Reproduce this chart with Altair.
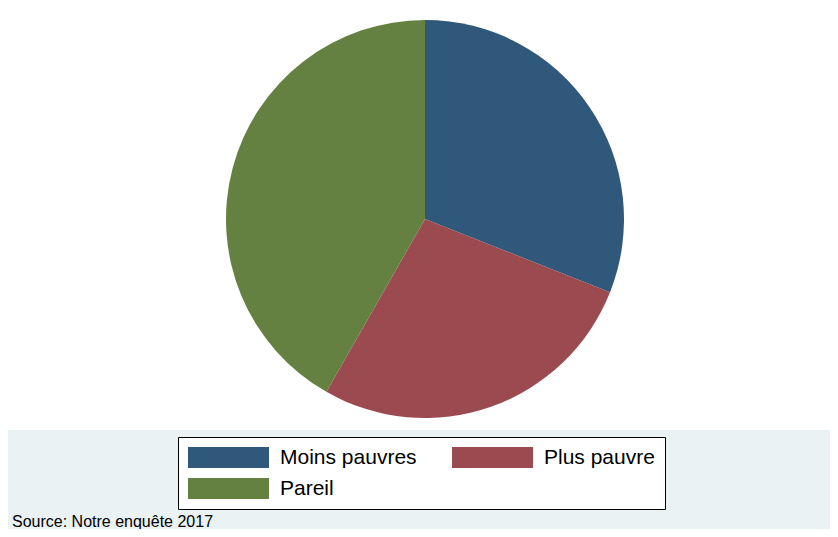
import altair as alt
import pandas as pd

# ---- data ----
categories = ["Moins pauvres", "Plus pauvre", "Pareil"]
shares = [31.0, 27.25, 41.75]
order_idx = [0, 1, 2]
slice_colors = ["#30587B", "#9B4A50", "#658141"]
source_note = ["Source: Notre enquête 2017"]

W, H = 822, 521
BG = "#EAF2F3"

pie_df = pd.DataFrame({"cat": categories, "value": shares, "idx": order_idx})
one_row = pd.DataFrame({"k": [0]})
note_df = pd.DataFrame({"txt": source_note})

plot_bg = alt.Chart(one_row).mark_rect(color="white").encode(
    x=alt.value(0), x2=alt.value(829), y=alt.value(0), y2=alt.value(422)
)

legend_path = "M-3.857,-1L3.857,-1L3.857,1L-3.857,1Z"

pie = alt.Chart(pie_df).mark_arc(outerRadius=199, strokeWidth=0).encode(
    theta=alt.Theta("value:Q", stack=True),
    color=alt.Color(
        "cat:N",
        scale=alt.Scale(domain=categories, range=slice_colors),
        legend=alt.Legend(
            title=None,
            orient="none",
            legendX=170,
            legendY=429,
            direction="horizontal",
            columns=2,
            columnPadding=35,
            rowPadding=9,
            padding=10,
            fillColor="white",
            strokeColor="black",
            symbolType=legend_path,
            symbolSize=441,
            symbolOffset=30,
            symbolStrokeWidth=0,
            symbolOpacity=1,
            labelOffset=41,
            labelFontSize=21,
            labelFont="Liberation Sans",
            labelColor="black",
            labelLimit=400,
        ),
    ),
    order=alt.Order("idx:Q", sort="ascending"),
    x=alt.value(417),
    y=alt.value(211),
)

note = alt.Chart(note_df).mark_text(
    align="left", baseline="alphabetic", fontSize=16, font="Liberation Sans", color="black"
).encode(x=alt.value(4), y=alt.value(519), text="txt:N")

chart = alt.layer(plot_bg, pie, note).properties(
    width=W,
    height=H,
    autosize=alt.AutoSizeParams(type="none"),
    padding=0,
    background=BG,
).configure_view(strokeWidth=0)

chart.save("out.html", embed_options={"renderer": "svg", "actions": False})
